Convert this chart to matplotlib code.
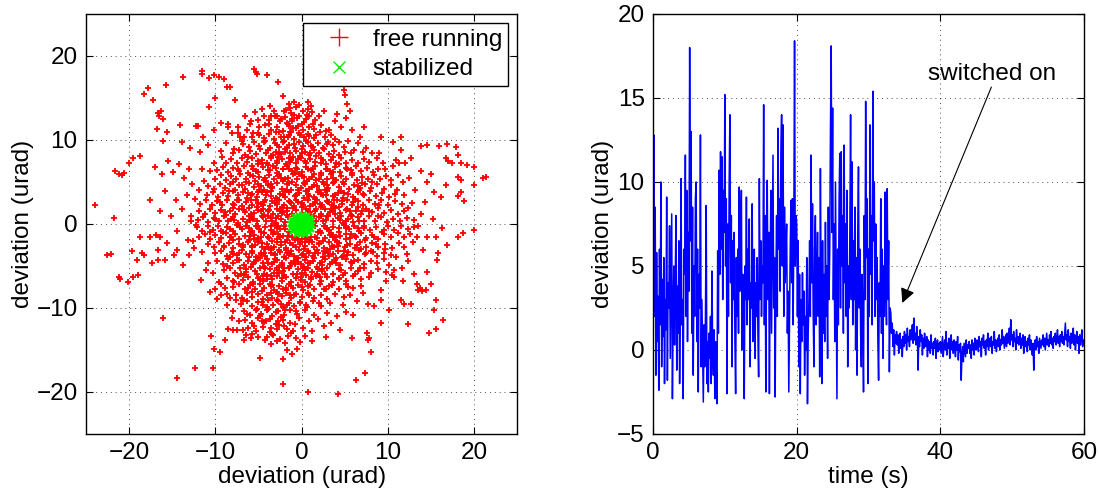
import numpy as np
import matplotlib
matplotlib.use("Agg")
import matplotlib.pyplot as plt
from matplotlib.lines import Line2D

plt.rcParams['font.family'] = ['Liberation Sans', 'DejaVu Sans']
plt.rcParams['font.size'] = 17.5

# ---- left panel: beam deviation scatter (urad) ----
# dense central cloud, read band by band
free_core = [
    (-1.8,13.6),(-1.2,13.2),(-0.6,13.9),(0.2,13.4),(-0.3,12.9),(0.8,13.7),(-1.5,14.3),(-0.9,14.5),
    (-3.8,12.4),(-3.1,12.8),(-2.5,12.2),(-1.9,12.7),(-1.1,12.3),(-0.5,12.6),(0.3,12.1),(0.9,12.8),(1.6,12.4),(-2.8,12.9),
    (-4.9,11.5),(-4.2,11.8),(-3.5,11.2),(-2.9,11.6),(-2.2,11.1),(-1.6,11.9),(-1.0,11.4),(-0.4,11.7),(0.2,11.2),(0.9,11.6),(1.5,11.3),(2.3,11.8),(2.8,11.1),(-1.3,11.0),
    (-5.8,10.4),(-5.1,10.8),(-4.4,10.2),(-3.8,10.7),(-3.2,10.1),(-2.6,10.9),(-2.0,10.4),(-1.5,10.6),(-0.9,10.1),(-0.3,10.8),(0.3,10.3),(0.8,10.7),(1.4,10.2),(2.1,10.9),(2.7,10.4),(3.4,10.6),(3.9,10.1),(-1.2,10.9),
    (-6.8,9.5),(-6.1,9.2),(-5.5,9.8),(-4.9,9.3),(-4.3,9.7),(-3.7,9.1),(-3.1,9.6),(-2.6,9.2),(-2.0,9.9),(-1.4,9.4),(-0.8,9.1),(-0.3,9.7),(0.2,9.3),(0.8,9.8),(1.3,9.2),(1.9,9.6),(2.5,9.1),(3.1,9.8),(3.7,9.4),(4.3,9.7),(4.9,9.2),(-1.7,9.0),
    (-7.9,8.4),(-7.2,8.8),(-6.6,8.2),(-6.0,8.7),(-5.3,8.3),(-4.8,8.9),(-4.1,8.5),(-3.6,8.1),(-3.0,8.6),(-2.4,8.3),(-1.9,8.9),(-1.3,8.4),(-0.7,8.7),(-0.2,8.1),(0.4,8.6),(0.9,8.2),(1.5,8.8),(2.0,8.4),(2.6,8.9),(3.2,8.3),(3.8,8.7),(4.4,8.2),(5.0,8.6),(5.7,8.4),(-2.7,8.0),(0.1,8.9),
    (-8.8,7.3),(-8.2,7.7),(-7.5,7.2),(-6.9,7.8),(-6.3,7.4),(-5.7,7.9),(-5.1,7.1),(-4.6,7.6),(-4.0,7.2),(-3.5,7.8),(-2.9,7.3),(-2.3,7.7),(-1.8,7.1),(-1.2,7.6),(-0.7,7.3),(-0.1,7.9),(0.5,7.2),(1.0,7.7),(1.6,7.4),(2.2,7.9),(2.8,7.1),(3.4,7.6),(4.0,7.3),(4.6,7.8),(5.2,7.2),(5.9,7.6),(6.5,7.3),(7.2,7.7),(7.8,7.4),(-1.5,7.9),
    (-9.8,6.4),(-9.1,6.8),(-8.5,6.2),(-7.9,6.7),(-7.3,6.3),(-6.7,6.9),(-6.2,6.1),(-5.6,6.6),(-5.0,6.2),(-4.5,6.8),(-3.9,6.4),(-3.3,6.9),(-2.8,6.1),(-2.2,6.5),(-1.7,6.9),(-1.1,6.3),(-0.6,6.7),(0.0,6.2),(0.5,6.8),(1.1,6.4),(1.6,6.9),(2.2,6.1),(2.8,6.6),(3.3,6.3),(3.9,6.8),(4.5,6.2),(5.1,6.7),(5.7,6.4),(6.3,6.9),(6.9,6.3),(7.6,6.7),(8.3,6.2),(8.9,6.6),(-0.3,6.0),
    (-10.0,5.4),(-9.4,5.8),(-8.8,5.2),(-8.2,5.7),(-7.6,5.3),(-7.1,5.9),(-6.5,5.4),(-6.0,5.8),(-5.4,5.1),(-4.9,5.6),(-4.3,5.2),(-3.8,5.8),(-3.2,5.3),(-2.7,5.7),(-2.1,5.1),(-1.6,5.5),(-1.0,5.9),(-0.5,5.3),(0.1,5.7),(0.6,5.1),(1.2,5.6),(1.7,5.2),(2.3,5.8),(2.9,5.4),(3.4,5.9),(4.0,5.2),(4.6,5.7),(5.2,5.3),(5.8,5.8),(6.4,5.2),(7.0,5.6),(7.7,5.3),(8.4,5.8),(9.1,5.4),(9.8,5.7),(-2.4,5.5),(0.9,5.4),(3.7,5.5),
    (-10.8,4.5),(-10.1,4.2),(-9.5,4.8),(-8.9,4.3),(-8.3,4.7),(-7.7,4.1),(-7.2,4.6),(-6.6,4.2),(-6.1,4.9),(-5.5,4.4),(-5.0,4.8),(-4.4,4.1),(-3.9,4.6),(-3.4,4.3),(-2.8,4.9),(-2.3,4.2),(-1.7,4.7),(-1.2,4.1),(-0.7,4.6),(-0.1,4.3),(0.4,4.8),(0.9,4.2),(1.5,4.6),(2.0,4.1),(2.6,4.7),(3.1,4.3),(3.7,4.9),(4.3,4.4),(4.9,4.8),(5.5,4.2),(6.1,4.6),(6.7,4.1),(7.4,4.7),(8.1,4.3),(8.8,4.8),(9.6,4.2),(10.4,4.6),(-4.7,4.5),(-1.4,4.9),(1.8,4.5),
    (-11.0,3.5),(-10.3,3.8),(-9.7,3.2),(-9.1,3.7),(-8.5,3.3),(-7.9,3.9),(-7.4,3.4),(-6.8,3.8),(-6.3,3.1),(-5.7,3.6),(-5.2,3.2),(-4.6,3.8),(-4.1,3.4),(-3.6,3.9),(-3.0,3.1),(-2.5,3.6),(-1.9,3.2),(-1.4,3.8),(-0.8,3.3),(-0.3,3.7),(0.3,3.1),(0.8,3.6),(1.4,3.2),(1.9,3.8),(2.5,3.4),(3.0,3.9),(3.6,3.3),(4.2,3.7),(4.8,3.1),(5.4,3.6),(6.0,3.2),(6.6,3.8),(7.2,3.4),(7.9,3.9),(8.6,3.3),(9.3,3.7),(10.1,3.2),(10.8,3.6),(-2.2,3.5),(0.6,3.9),(-5.9,3.4),(2.8,3.5),
    (-11.8,2.4),(-11.1,2.8),(-10.4,2.2),(-9.8,2.7),(-9.2,2.3),(-8.6,2.9),(-8.0,2.4),(-7.5,2.8),(-6.9,2.1),(-6.4,2.6),(-5.8,2.2),(-5.3,2.8),(-4.7,2.4),(-4.2,2.9),(-3.7,2.1),(-3.1,2.5),(-2.6,2.9),(-2.0,2.3),(-1.5,2.7),(-0.9,2.1),(-0.4,2.6),(0.2,2.2),(0.7,2.8),(1.3,2.4),(1.8,2.9),(2.4,2.2),(2.9,2.7),(3.5,2.3),(4.1,2.8),(4.7,2.4),(5.3,2.9),(5.9,2.2),(6.5,2.7),(7.1,2.3),(7.8,2.8),(8.5,2.4),(9.2,2.9),(10.0,2.3),(10.8,2.7),(11.6,2.4),(-1.2,2.5),(1.0,2.1),(-3.4,2.7),(3.2,2.6),
    (-11.9,1.5),(-11.2,1.2),(-10.6,1.8),(-10.0,1.3),(-9.4,1.7),(-8.8,1.1),(-8.3,1.6),(-7.7,1.2),(-7.2,1.8),(-6.6,1.4),(-6.1,1.9),(-5.5,1.3),(-5.0,1.7),(-4.4,1.1),(-3.9,1.6),(-3.3,1.2),(-2.8,1.8),(-2.2,1.4),(-1.7,1.9),(-1.1,1.2),(-0.6,1.7),(0.0,1.3),(0.5,1.8),(1.1,1.1),(1.6,1.6),(2.2,1.2),(2.7,1.8),(3.3,1.4),(3.9,1.9),(4.5,1.3),(5.1,1.7),(5.7,1.1),(6.3,1.6),(6.9,1.2),(7.5,1.8),(8.2,1.4),(8.9,1.9),(9.6,1.3),(10.4,1.7),(11.2,1.2),(11.9,1.6),(-2.5,1.5),(0.8,1.5),(-4.7,1.5),(3.6,1.6),(-8.0,1.9),
    (-12.0,0.5),(-11.4,0.8),(-10.8,0.2),(-10.2,0.7),(-9.6,0.3),(-9.0,0.9),(-8.5,0.4),(-7.9,0.8),(-7.4,0.1),(-6.8,0.6),(-6.3,0.2),(-5.7,0.8),(-5.2,0.3),(-4.6,0.9),(-4.1,0.4),(-3.5,0.7),(-3.0,0.1),(-2.4,0.6),(-1.9,0.2),(2.0,0.8),(2.5,0.3),(3.1,0.9),(3.6,0.4),(4.2,0.7),(4.8,0.1),(5.4,0.6),(6.0,0.2),(6.6,0.8),(7.2,0.3),(7.8,0.9),(8.5,0.4),(9.2,0.8),(9.9,0.2),(10.6,0.6),(11.4,0.3),(12.2,0.7),(-2.7,0.9),(2.8,0.5),(-1.6,0.8),(1.7,0.3),(-6.0,0.5),(5.1,0.4),(13.0,0.5),(-8.2,0.6),
    (-12.1,-0.4),(-11.5,-0.8),(-10.9,-0.2),(-10.3,-0.7),(-9.7,-0.3),(-9.1,-0.9),(-8.6,-0.4),(-8.0,-0.8),(-7.5,-0.1),(-6.9,-0.6),(-6.4,-0.2),(-5.8,-0.8),(-5.3,-0.3),(-4.7,-0.9),(-4.2,-0.4),(-3.6,-0.7),(-3.1,-0.1),(-2.5,-0.6),(-2.0,-0.2),(-1.5,-0.9),(1.6,-0.3),(2.1,-0.8),(2.6,-0.2),(3.2,-0.7),(3.7,-0.4),(4.3,-0.9),(4.9,-0.1),(5.5,-0.6),(6.1,-0.3),(6.7,-0.8),(7.3,-0.2),(7.9,-0.7),(8.6,-0.4),(9.3,-0.9),(10.0,-0.3),(10.7,-0.7),(11.5,-0.2),(12.3,-0.6),(-2.8,-0.5),(2.9,-0.5),(-6.1,-0.5),(5.2,-0.5),(13.1,-0.4),(-8.3,-0.6),
    (-11.9,-1.5),(-11.2,-1.2),(-10.6,-1.8),(-10.0,-1.3),(-9.4,-1.7),(-8.8,-1.1),(-8.3,-1.6),(-7.7,-1.2),(-7.2,-1.8),(-6.6,-1.4),(-6.1,-1.9),(-5.5,-1.3),(-5.0,-1.7),(-4.4,-1.1),(-3.9,-1.6),(-3.3,-1.2),(-2.8,-1.8),(-2.2,-1.4),(-1.7,-1.9),(-1.1,-1.6),(-0.6,-1.7),(0.0,-1.8),(0.5,-1.8),(1.1,-1.6),(1.6,-1.6),(2.2,-1.1),(2.7,-1.7),(3.3,-1.3),(3.9,-1.9),(4.5,-1.4),(5.1,-1.8),(5.7,-1.2),(6.3,-1.6),(6.9,-1.1),(7.5,-1.7),(8.2,-1.3),(8.9,-1.8),(9.6,-1.2),(10.4,-1.6),(11.2,-1.1),(11.9,-1.5),(-2.5,-1.5),(-4.7,-1.5),(3.6,-1.6),(-8.0,-1.9),
    (-10.9,-2.4),(-10.2,-2.8),(-9.6,-2.2),(-9.0,-2.7),(-8.4,-2.3),(-7.9,-2.9),(-7.3,-2.4),(-6.8,-2.8),(-6.2,-2.1),(-5.7,-2.6),(-5.1,-2.2),(-4.6,-2.8),(-4.0,-2.4),(-3.5,-2.9),(-2.9,-2.1),(-2.4,-2.5),(-1.8,-2.9),(-1.3,-2.3),(-0.7,-2.7),(-0.2,-2.1),(0.4,-2.6),(0.9,-2.2),(1.5,-2.8),(2.0,-2.4),(2.6,-2.9),(3.2,-2.2),(3.8,-2.7),(4.4,-2.3),(5.0,-2.8),(5.6,-2.4),(6.2,-2.9),(6.8,-2.2),(7.5,-2.7),(8.2,-2.3),(8.9,-2.8),(9.7,-2.4),(10.5,-2.9),(11.3,-2.3),(-1.0,-2.5),(1.2,-2.1),(-3.2,-2.7),(3.5,-2.6),(-5.4,-2.5),(5.3,-2.5),
    (-10.0,-3.5),(-9.3,-3.2),(-8.7,-3.8),(-8.1,-3.3),(-7.5,-3.7),(-6.9,-3.1),(-6.4,-3.6),(-5.8,-3.2),(-5.3,-3.9),(-4.7,-3.4),(-4.2,-3.8),(-3.6,-3.1),(-3.1,-3.6),(-2.5,-3.3),(-2.0,-3.9),(-1.4,-3.4),(-0.9,-3.8),(-0.3,-3.1),(0.2,-3.6),(0.8,-3.2),(1.3,-3.8),(1.9,-3.4),(2.5,-3.9),(3.0,-3.1),(3.6,-3.6),(4.2,-3.2),(4.8,-3.8),(5.4,-3.3),(6.0,-3.7),(6.7,-3.1),(7.4,-3.6),(8.1,-3.2),(8.8,-3.8),(9.6,-3.4),(10.4,-3.7),(-1.7,-3.5),(0.5,-3.9),(-4.4,-3.5),(2.7,-3.5),(-7.2,-3.4),
    (-9.8,-4.4),(-9.1,-4.8),(-8.5,-4.2),(-7.9,-4.7),(-7.3,-4.3),(-6.7,-4.9),(-6.2,-4.4),(-5.6,-4.8),(-5.1,-4.1),(-4.5,-4.6),(-4.0,-4.2),(-3.4,-4.8),(-2.9,-4.3),(-2.3,-4.9),(-1.8,-4.1),(-1.2,-4.6),(-0.7,-4.2),(-0.1,-4.8),(0.4,-4.3),(1.0,-4.7),(1.5,-4.1),(2.1,-4.6),(2.7,-4.2),(3.3,-4.8),(3.9,-4.3),(4.5,-4.9),(5.1,-4.2),(5.8,-4.7),(6.5,-4.3),(7.2,-4.8),(8.0,-4.4),(8.8,-4.7),(9.6,-4.2),(-3.2,-4.5),(-0.4,-4.5),(2.4,-4.5),
    (-9.0,-5.5),(-8.3,-5.2),(-7.7,-5.8),(-7.1,-5.3),(-6.5,-5.7),(-5.9,-5.1),(-5.4,-5.6),(-4.8,-5.2),(-4.3,-5.9),(-3.7,-5.4),(-3.2,-5.8),(-2.6,-5.1),(-2.1,-5.6),(-1.5,-5.3),(-1.0,-5.9),(-0.4,-5.4),(0.1,-5.8),(0.7,-5.2),(1.2,-5.7),(1.8,-5.1),(2.4,-5.6),(3.0,-5.3),(3.6,-5.9),(4.3,-5.4),(5.0,-5.8),(5.7,-5.2),(6.5,-5.6),(7.3,-5.3),(8.1,-5.8),(8.9,-5.4),(-2.9,-5.5),(0.4,-5.5),
    (-8.7,-6.4),(-8.0,-6.8),(-7.4,-6.2),(-6.8,-6.7),(-6.2,-6.3),(-5.6,-6.9),(-5.1,-6.4),(-4.5,-6.8),(-4.0,-6.1),(-3.4,-6.6),(-2.9,-6.2),(-2.3,-6.8),(-1.8,-6.3),(-1.2,-6.9),(-0.7,-6.4),(-0.1,-6.7),(0.5,-6.1),(1.1,-6.6),(1.7,-6.2),(2.3,-6.8),(3.0,-6.3),(3.7,-6.9),(4.4,-6.4),(5.2,-6.8),(6.0,-6.2),(6.9,-6.6),(7.8,-6.3),(-4.8,-6.5),
    (-7.9,-7.5),(-7.2,-7.2),(-6.6,-7.8),(-6.0,-7.3),(-5.4,-7.7),(-4.8,-7.1),(-4.3,-7.6),(-3.7,-7.2),(-3.2,-7.9),(-2.6,-7.4),(-2.1,-7.8),(-1.5,-7.1),(-1.0,-7.6),(-0.4,-7.3),(0.2,-7.9),(0.8,-7.4),(1.4,-7.7),(2.1,-7.2),(2.8,-7.8),(3.5,-7.3),(4.3,-7.7),(5.1,-7.2),(6.0,-7.6),(6.9,-7.4),
    (-7.6,-8.4),(-6.9,-8.8),(-6.3,-8.2),(-5.7,-8.7),(-5.1,-8.3),(-4.5,-8.9),(-4.0,-8.4),(-3.4,-8.8),(-2.9,-8.1),(-2.3,-8.6),(-1.8,-8.2),(-1.2,-8.8),(-0.6,-8.3),(0.0,-8.7),(0.7,-8.2),(1.4,-8.8),(2.2,-8.4),(3.0,-8.9),(3.9,-8.3),(4.9,-8.7),
    (-7.0,-9.5),(-6.3,-9.2),(-5.7,-9.8),(-5.1,-9.3),(-4.5,-9.7),(-3.9,-9.1),(-3.3,-9.6),(-2.7,-9.2),(-2.1,-9.9),(-1.5,-9.4),(-0.9,-9.8),(-0.2,-9.3),(0.5,-9.7),(1.3,-9.2),(2.2,-9.8),(3.3,-9.4),
    (-6.7,-10.4),(-6.0,-10.8),(-5.3,-10.2),(-4.7,-10.7),(-4.0,-10.3),(-3.4,-10.9),(-2.7,-10.4),(-2.0,-10.8),(-1.3,-10.2),(-0.5,-10.7),(0.4,-10.3),(1.5,-10.8),
    (-6.6,-11.4),(-5.8,-11.8),(-5.1,-11.2),(-4.4,-11.7),(-3.7,-11.3),(-3.0,-11.9),(-2.2,-11.4),(-1.3,-11.8),(-0.3,-11.2),(0.9,-11.6),
    (-6.2,-12.4),(-5.3,-12.8),(-4.5,-12.3),(-3.7,-12.9),(-2.9,-12.5),(-2.0,-12.2),(-1.0,-12.7),(0.2,-12.4),
    (-5.1,-13.4),(-4.2,-13.8),(-3.3,-13.2),(-2.5,-13.7),(-1.6,-13.3),(-0.6,-13.6),
]

# extra points where the cloud is densest
free_inner = [
    (-5.6,5.7),(-4.9,4.0),(-4.1,5.1),(-3.4,4.4),(-2.6,5.9),(-1.9,3.9),(-1.1,5.0),(-0.4,4.1),(0.3,5.6),(1.2,4.4),(2.0,5.4),(2.9,4.0),(3.8,5.0),(4.6,3.9),
    (-5.9,2.9),(-5.0,3.8),(-4.3,2.6),(-3.6,3.3),(-2.9,2.4),(-2.1,3.4),(-1.3,2.6),(-0.6,3.5),(0.1,2.5),(0.9,3.3),(1.6,2.5),(2.3,3.6),(3.1,2.6),(3.9,3.4),(4.7,2.7),
    (-6.1,1.0),(-5.2,2.0),(-4.5,0.8),(-3.8,1.7),(-3.0,0.7),(-2.3,1.9),(-1.7,1.1),(1.5,0.9),(2.2,2.0),(3.0,1.0),(3.8,2.1),(4.6,0.9),(5.3,1.8),
    (-6.0,-0.9),(-5.1,-0.2),(-4.3,-1.1),(-3.5,-0.3),(-2.7,-1.2),(-1.9,-0.6),(1.9,-1.0),(2.7,-0.2),(3.5,-1.3),(4.3,-0.5),(5.1,-1.2),
    (-5.8,-2.7),(-5.0,-1.9),(-4.2,-3.0),(-3.4,-2.0),(-2.6,-3.1),(-1.9,-2.2),(-1.2,-3.2),(-0.4,-1.8),(0.3,-3.0),(1.0,-1.9),(1.8,-3.1),(2.5,-2.0),(3.3,-3.0),(4.1,-2.1),(4.9,-3.2),
    (-5.5,-4.5),(-4.7,-3.6),(-3.9,-4.7),(-3.1,-3.7),(-2.3,-4.6),(-1.5,-3.6),(-0.8,-4.8),(0.0,-3.7),(0.8,-4.6),(1.6,-3.5),(2.4,-4.9),(3.2,-3.8),(4.0,-4.6),
    (-5.2,-5.9),(-4.4,-5.1),(-3.6,-6.2),(-2.8,-5.2),(-2.0,-6.1),(-1.3,-5.0),(-0.5,-6.0),(0.3,-5.1),(1.1,-6.3),(1.9,-5.4),(2.7,-6.0),
    (-4.6,7.2),(-3.7,6.4),(-2.9,7.5),(-2.1,6.6),(-1.3,7.4),(-0.5,6.5),(0.4,7.5),(1.3,6.6),(2.2,7.3),(3.0,6.5),
    (-3.9,8.8),(-2.9,9.4),(-1.9,8.6),(-0.9,9.5),(0.1,8.5),(1.1,9.3),(-2.4,10.3),(-1.4,11.7),(-0.2,10.6),(-1.1,12.5),
    (-4.6,-8.0),(-3.6,-7.4),(-2.7,-8.3),(-1.8,-7.6),(-0.9,-8.5),(0.0,-7.5),(-3.9,-10.1),(-2.9,-9.0),(-1.9,-10.3),(-4.1,-11.6),(-2.6,-12.0),(-3.4,-13.1),
    (6.2,3.0),(7.0,1.5),(6.5,-0.5),(7.4,-1.9),(6.8,4.3),(8.3,-3.3),(6.1,-4.4),
]

# second pass over the dense part of the cloud
free_dense = [
    (-4.2,9.9),(-3.3,8.2),(-2.2,9.7),(-1.0,8.0),(0.5,9.9),(1.7,8.1),(2.9,9.5),(-5.1,7.5),(-3.9,7.0),(-2.6,8.4),(-0.4,7.7),(1.0,8.5),(2.5,7.6),(3.7,8.0),(-6.2,8.0),(4.4,7.1),(-1.6,10.3),(0.9,10.5),(-3.0,11.0),(-0.6,11.4),
    (-7.4,6.6),(-6.4,5.0),(-5.3,6.3),(-4.2,5.5),(-3.0,6.7),(-1.9,5.3),(-0.8,6.1),(0.3,4.9),(1.4,6.0),(2.5,5.0),(3.6,6.2),(4.8,5.0),(5.9,6.1),(7.0,4.9),(-6.9,4.6),(-5.8,6.9),(-3.6,4.7),(-1.5,6.5),(0.8,6.6),(2.9,4.6),(5.3,6.6),(6.5,4.5),(-8.0,5.0),(8.2,5.0),
    (-8.4,3.9),(-7.3,2.9),(-6.2,3.7),(-5.1,2.5),(-4.0,3.8),(-2.9,3.0),(-1.7,4.0),(-0.6,2.9),(0.5,3.9),(1.6,3.0),(2.7,4.0),(3.8,2.8),(4.9,3.7),(6.0,2.6),(7.1,3.6),(-7.8,2.2),(-4.5,2.2),(-2.3,2.0),(0.0,2.0),(2.1,2.4),(4.3,2.0),(6.6,2.0),(-9.5,2.6),(9.0,2.2),
    (-8.9,1.4),(-7.8,0.5),(-6.7,1.7),(-5.6,0.6),(-4.5,1.8),(-3.4,0.4),(-2.3,1.3),(2.3,0.9),(3.4,1.8),(4.5,0.5),(5.6,1.5),(6.7,0.4),(7.8,1.5),(-10.0,0.6),(-5.9,1.2),(-3.9,1.0),(3.9,1.2),(5.9,0.9),(8.9,0.9),(-1.7,1.6),(1.7,1.8),(-1.0,1.9),(1.0,1.4),
    (-9.3,-0.8),(-8.2,-1.6),(-7.1,-0.4),(-6.0,-1.4),(-4.9,-0.6),(-3.8,-1.7),(-2.7,-0.3),(-1.6,-1.4),(1.8,-1.7),(2.9,-0.6),(4.0,-1.5),(5.1,-0.3),(6.2,-1.4),(7.3,-0.5),(8.4,-1.6),(-10.6,-1.0),(-5.5,-1.8),(-3.2,-1.0),(3.4,-1.1),(5.6,-1.7),(9.6,-0.7),(-0.8,-1.9),(0.6,-1.6),
    (-9.0,-2.6),(-7.9,-3.6),(-6.8,-2.5),(-5.7,-3.5),(-4.6,-2.3),(-3.5,-3.4),(-2.4,-2.2),(-1.3,-3.6),(-0.2,-2.4),(0.9,-3.5),(2.0,-2.3),(3.1,-3.4),(4.2,-2.6),(5.3,-3.7),(6.4,-2.5),(7.5,-3.5),(8.6,-2.4),(-8.3,-3.9),(-6.1,-3.9),(-3.9,-2.8),(-1.8,-3.1),(0.4,-2.2),(2.6,-3.2),(4.7,-3.9),(6.9,-3.0),(9.7,-3.0),
    (-8.6,-5.0),(-7.5,-4.3),(-6.4,-5.4),(-5.3,-4.4),(-4.2,-5.3),(-3.1,-4.2),(-2.0,-5.2),(-0.9,-4.4),(0.2,-5.2),(1.3,-4.4),(2.4,-5.4),(3.5,-4.5),(4.6,-5.5),(5.7,-4.5),(6.8,-5.2),(-7.0,-5.9),(-4.8,-4.0),(-2.6,-5.8),(-0.4,-4.1),(1.8,-5.9),(4.0,-4.1),(6.2,-5.9),
    (-7.8,-6.9),(-6.7,-6.1),(-5.6,-7.2),(-4.5,-6.2),(-3.4,-7.3),(-2.3,-6.4),(-1.2,-7.4),(-0.1,-6.3),(1.0,-7.3),(2.1,-6.3),(3.2,-7.4),(4.3,-6.5),(5.4,-7.5),(-6.2,-7.6),(-4.0,-6.6),(-1.8,-7.9),(0.4,-6.9),(2.6,-7.7),(4.8,-6.1),
    (-6.8,-9.0),(-5.7,-8.1),(-4.6,-9.3),(-3.5,-8.2),(-2.4,-9.5),(-1.3,-8.4),(-0.2,-9.4),(0.9,-8.5),(2.0,-9.4),(-5.2,-10.1),(-4.0,-9.9),(-3.0,-10.5),(-1.7,-9.7),(-0.6,-10.4),(0.6,-9.9),(-6.3,-10.7),(-2.4,-11.1),(-4.8,-11.0),
    (-5.5,-12.1),(-4.6,-11.5),(-3.6,-12.4),(-2.7,-11.6),(-1.7,-12.5),(-0.8,-11.9),(-4.0,-13.4),(-2.9,-13.9),(-1.9,-14.2),(-3.6,-14.3),(-5.7,-13.1),(-1.2,-13.0),
    (-3.8,11.9),(-2.4,12.5),(-0.9,13.0),(0.5,12.5),(-2.0,13.4),(-0.3,14.2),(1.1,14.0),(-1.3,13.8),(2.0,12.9),(-3.2,13.4),(1.7,10.6),(-4.9,10.6),(3.2,11.2),(-1.7,12.0),(0.0,11.9),(1.3,11.9),
]

# rim of the cloud, rounding it off between the bands
free_rim = [
    (-8.8,9.6),(-8.1,10.8),(-7.4,11.6),(-6.9,9.9),(-6.3,11.2),(-5.9,12.3),(-7.8,8.9),(-8.5,11.9),(-6.6,12.8),(-5.4,13.3),(-9.3,8.7),(-7.1,10.3),(-4.6,13.7),(-3.7,14.1),(-6.0,11.9),
    (5.4,9.9),(6.1,8.8),(6.8,10.3),(7.5,9.1),(5.8,11.2),(4.6,11.6),(8.2,8.4),(3.9,12.3),(6.5,9.6),(8.8,7.9),(7.1,8.6),(4.1,13.1),(5.1,12.6),(9.5,7.2),(2.6,13.5),
    (9.7,6.6),(10.4,5.2),(11.1,4.1),(10.6,6.9),(11.8,5.0),(10.2,-4.9),(11.0,-3.9),(10.5,-6.1),(11.6,-5.2),(9.8,-6.8),(12.4,1.9),(12.6,-1.2),(11.9,-2.8),(10.9,7.6),(9.0,8.5),
    (-10.6,6.3),(-11.3,5.1),(-10.1,7.2),(-11.9,4.0),(-12.4,3.0),(-10.8,-4.6),(-11.5,-3.3),(-10.3,-5.8),(-9.6,-6.9),(-11.1,-5.5),(-12.6,-2.0),(-12.8,1.0),(-9.2,8.0),(-11.6,6.5),(-12.2,-0.1),
    (-9.3,-8.4),(-8.6,-9.6),(-7.9,-10.4),(-8.9,-7.6),(-7.3,-11.5),(-6.8,-12.6),(-9.8,-8.9),(-8.1,-11.2),(-7.6,-9.1),(-6.4,-13.2),
    (4.8,-9.6),(5.6,-8.4),(6.4,-9.2),(5.2,-10.5),(4.1,-10.9),(3.4,-11.8),(7.1,-8.2),(6.0,-10.8),(2.6,-12.1),(7.7,-9.5),(2.9,-10.6),(1.9,-11.3),(1.2,-12.8),(0.4,-13.3),(-0.2,-14.1),
]

# sparse points outside the cloud
free_outliers = [
    (-21.6,6.3),(-24.0,2.3),(-21.8,0.7),(-21.2,6.0),(-20.8,5.8),(-20.6,6.1),(-20.0,7.2),(-19.5,7.8),(-18.7,8.1),(-18.3,15.5),
    (-17.8,16.2),(-17.2,14.7),(-16.7,13.2),(-16.3,13.4),(-16.5,12.9),(-16.1,12.5),(-15.7,16.6),(-16.8,11.3),(-15.6,10.9),(-16.1,9.9),
    (-14.1,11.8),(-13.8,17.5),(-12.3,11.7),(-12.0,11.7),(-11.6,17.9),(-11.5,18.2),(-10.7,17.4),(-10.1,17.7),(-9.6,17.5),(-9.0,17.3),
    (-8.6,16.3),(-8.3,16.3),(-10.0,15.0),(-7.7,14.8),(-10.7,13.9),(-5.3,18.1),(-5.5,18.4),(-5.2,17.8),(-4.0,17.7),(-2.7,16.9),
    (-2.1,15.2),(-5.0,12.4),(-4.4,12.8),(-3.5,12.9),(-7.4,10.8),(-6.7,10.4),(-5.6,10.8),(0.8,14.5),(0.6,13.0),(1.2,13.3),
    (4.9,16.0),(5.0,15.4),(5.3,14.3),(5.6,13.5),(7.2,11.5),(9.2,10.4),(10.6,9.7),(11.5,10.4),(13.8,9.3),(14.6,9.4),
    (16.0,9.3),(16.9,9.5),(17.9,9.2),(18.5,7.3),(19.2,7.0),(20.0,6.8),(21.0,5.5),(21.4,5.6),(18.1,5.6),(18.5,5.2),
    (20.0,4.6),(18.5,3.8),(18.8,2.7),(18.1,3.3),(20.0,-0.7),(16.7,7.9),(17.0,7.5),(17.5,7.3),(18.1,8.2),(11.5,8.8),
    (11.3,7.3),(12.0,7.3),(12.7,7.9),(13.8,6.3),(14.6,5.0),(15.4,3.8),(16.2,3.2),
    (13.4,-1.5),(14.5,-1.5),(15.6,-1.5),(15.8,-3.5),(15.7,-4.3),(16.9,-2.5),(18.1,-1.5),(18.7,-1.1),(14.6,-5.7),(15.0,-7.1),
    (14.4,-7.9),(15.6,-9.0),(13.4,-7.1),(13.7,-7.6),(14.0,-8.0),(13.5,-7.9),(15.4,-10.2),(16.4,-11.4),(14.8,-13.0),(15.6,-12.5),
    (12.3,-11.9),(11.5,-9.0),(11.9,-9.5),(12.7,-9.5),(10.1,-10.2),(9.2,-11.8),(10.7,-5.5),(10.7,-6.3),(9.8,-5.7),(8.0,-15.2),
    (7.7,-13.8),(7.8,-13.6),(7.6,-13.0),(7.4,-17.8),(6.3,-18.6),(4.2,-20.2),(5.9,-13.6),(4.5,-12.6),(2.8,-13.5),(1.2,-13.9),
    (9.2,-7.9),(9.2,-9.0),(8.4,-9.8),
    (-22.6,-3.7),(-22.1,-3.6),(-21.2,-6.3),(-21.1,-6.6),(-20.1,-6.9),(-19.5,-6.3),(-19.0,-6.1),(-19.7,-3.2),(-19.1,-4.3),(-18.5,-3.5),
    (-18.3,-3.7),(-18.7,-1.5),(-17.6,-1.5),(-16.9,-1.3),(-16.4,-1.6),(-17.4,-4.7),(-16.6,-4.3),(-15.8,-4.3),(-16.6,-3.1),(-14.8,-3.7),
    (-14.5,-3.1),(-13.7,-4.9),(-13.1,-3.7),(-16.1,-11.2),(-11.7,-6.7),(-14.5,-18.3),(-12.4,-17.1),(-10.3,-17.2),(-10.2,-14.9),(-9.5,-15.2),
    (-10.5,-13.3),(-8.9,-13.8),(-10.6,-8.1),(-10.0,-7.7),(-9.4,-7.1),(-8.6,-8.3),(-8.3,-8.8),(-8.5,-12.5),(-7.9,-12.6),(-7.5,-12.6),
    (-6.7,-13.8),(-5.9,-13.6),(-4.8,-16.0),(-2.2,-19.0),(0.7,-20.0),(-2.2,-16.1),(-1.7,-15.0),(-1.1,-15.5),(-0.5,-14.9),
    (-17.0,6.8),(-16.2,5.9),(-15.5,7.5),(-14.9,6.2),(-14.2,7.1),(-13.6,5.5),(-13.0,6.6),(-12.7,4.8),(-15.8,3.9),(-14.6,2.8),
    (-13.3,3.4),(-17.6,2.9),(-16.4,1.6),(-15.1,0.9),(-13.9,1.8),(-12.8,0.3),(-14.4,-0.8),(-13.2,-1.9),(-15.6,-2.3),(-12.5,-2.9),
    (-12.9,9.1),(-13.9,9.8),(-11.4,10.3),(-10.2,11.2),(-9.4,12.0),(-8.5,11.5),(-11.8,8.6),(-10.9,9.4),
    (12.5,5.5),(13.2,4.0),(12.8,2.5),(13.9,1.2),(13.5,-0.3),(12.9,-2.2),(14.1,-3.1),(12.4,-4.4),(13.0,-5.9),(11.8,-6.8),
    (11.2,5.8),(11.9,3.4),(14.3,2.6),(15.2,0.6),(16.3,-0.5),(15.0,5.9),(16.7,4.6),(12.2,-3.6),
]

# stabilized beam: tight blob around the origin
stab_pts = [
    (0.0,-0.1),(0.3,0.1),(-0.3,-0.3),(0.2,-0.4),(-0.2,0.2),
    (0.6,-0.1),(0.4,0.3),(0.0,0.4),(-0.4,0.3),(-0.6,-0.1),(-0.4,-0.5),(0.0,-0.6),(0.4,-0.5),
    (0.95,-0.1),(0.8,0.4),(0.5,0.75),(0.0,0.8),(-0.5,0.7),(-0.85,0.35),(-0.95,-0.1),(-0.8,-0.6),(-0.45,-0.9),(0.05,-0.95),(0.5,-0.85),(0.85,-0.5),
    (1.25,-0.1),(1.15,0.35),(0.95,0.7),(0.6,0.95),(0.15,1.05),(-0.35,1.0),(-0.8,0.85),(-1.1,0.5),(-1.25,0.05),(-1.2,-0.45),(-0.95,-0.85),(-0.55,-1.15),(-0.05,-1.25),(0.45,-1.2),(0.85,-0.95),(1.15,-0.55),
    (0.7,0.2),(-0.7,0.1),(0.25,0.65),(-0.25,-0.75),(0.65,-0.4),(-0.6,0.55),(0.3,-0.9),(-0.9,-0.35),(1.0,0.15),(-1.0,0.2),(0.1,1.0),(-0.2,-1.0),
]

# ---- right panel: deviation vs time, 0.1 s samples ----
dt = 0.1
dev_free = [
    4.5, 12.8, 2.0, 8.5, -1.5, 5.8, 0.5, 3.2, -2.4, 6.0,
    1.5, 10.0, -1.0, 4.2, 0.8, 5.5, -2.0, 3.0, 1.2, 9.1,
    -1.8, 4.0, 2.5, 7.4, -0.5, 3.5, 8.1, -2.9, 2.2, 5.0,
    0.3, 4.5, 8.0, -1.2, 3.8, 1.0, 6.5, -2.0, 2.5, 10.2,
    1.5, 3.0, -2.9, 6.0, 4.5, 11.6, 2.0, 9.5, 0.5, 7.0,
    3.5, 18.0, 6.5, 13.0, 1.0, 8.5, -1.5, 5.0, 2.0, 9.0,
    10.0, 0.5, 6.0, -2.5, 4.5, 2.5, 12.8, -1.0, 3.0, 0.0,
    -3.1, 1.5, -1.0, 2.0, 8.6, -2.0, 0.5, -2.5, 1.0, -0.5,
    2.0, -2.0, 4.7, 0.0, -1.5, 1.2, -2.9, 0.5, -1.0, -3.2,
    5.9, 1.0, 10.7, 4.5, 11.8, 6.0, 11.5, 3.0, 9.5, 7.0,
    15.2, 5.0, 9.0, -2.6, 7.5, 2.0, 10.0, 14.0, 4.0, 8.0,
    -1.0, 6.5, 3.0, 7.0, 0.5, -2.6, 5.5, 2.0, 6.0, 1.0,
    9.7, 3.5, 7.0, 9.5, 0.0, 4.5, 2.0, -2.9, 5.0, 3.0,
    9.1, 1.5, 6.0, 3.0, 7.8, -1.0, 4.0, 2.5, 8.7, 0.5,
    3.5, 6.0, -0.5, 4.0, 2.0, 5.5, 1.0, -1.6, 10.2, 3.0,
    6.5, 2.0, 5.0, 4.0, 14.6, 1.5, 8.0, -2.5, 5.0, 10.1,
    3.0, 7.0, -2.6, 4.5, 9.5, 1.0, 6.0, 11.6, 2.5, 5.5,
    -2.8, 4.0, 8.0, 2.0, 13.2, 6.0, 9.0, 3.5, 12.0, 14.0,
    5.0, 13.4, 2.0, 8.5, 4.0, 6.0, 7.5, 1.0, 3.5, -2.5,
    2.0, 6.0, 8.9, 4.0, 9.0, 1.5, 7.0, 18.4, 5.0, 8.0,
    7.5, 2.0, 6.5, -1.0, 4.5, -2.6, 3.0, 0.5, 4.6, 1.5,
    3.5, -1.5, 2.0, 0.0, 5.5, -3.2, 1.0, 3.0, 6.5, 2.0,
    11.6, 4.0, 8.7, 2.0, -1.0, 6.0, 8.0, 1.5, 4.0, 7.0,
    2.0, 5.5, -1.6, 10.8, 3.0, -2.0, 6.5, 1.0, 4.5, 0.5,
    7.6, 2.0, 5.0, -0.5, 8.5, 3.0, 6.0, 13.1, 18.1, 7.0,
    14.4, 3.0, 7.5, 0.5, 10.0, 4.0, -2.9, 6.0, 1.5, 9.0,
    11.7, 2.5, 11.8, 5.0, 8.0, 1.0, 12.2, 4.0, 7.5, 2.0,
    9.5, -1.0, 5.0, 2.5, 7.0, 14.0, 3.0, 11.2, 1.5, 6.5,
    3.0, 8.5, 0.0, 5.5, -1.5, 7.0, 10.9, 2.5, 6.0, 1.0,
    -1.0, 4.5, 2.0, -2.5, 8.0, 3.0, 14.8, 5.5, 9.0, -2.0,
    6.0, 2.0, 13.4, 4.5, 8.0, 1.5, 15.4, 6.5, 10.0, 2.0,
    7.5, 3.0, 5.5, 0.5, -1.8, 4.0, 2.0, 9.0, 1.0, 6.0,
    -0.5, 5.0, 2.0, 9.4, 4.0, 1.5, 9.6, 3.0, 6.5, -1.3,
    2.5,
]
dev_locked = [
    2.2, 1.0, 1.6, 0.2, 1.2, -0.3, 0.9, 0.4, 1.1,
    0.3, 0.9, -0.2, 0.7, 1.0, 0.1, 0.6, -0.4, 0.8, 0.2,
    1.1, 0.4, 0.9, 0.0, 1.3, 0.5, 0.8, 0.2, 1.2, 0.6,
    0.9, 1.5, 0.4, 1.9, 0.6, 1.0, 0.3, 1.4, 0.7, -1.2,
    0.8, 0.2, 1.2, 0.5, 0.9, -0.3, 0.7, 0.1, 1.0, 0.4,
    0.2, 0.8, -0.4, 0.6, 0.0, 0.5, -0.2, 0.9, 0.1, 0.4,
    -0.3, 0.5, 0.1, 0.7, -0.5, 0.3, 0.6, -0.1, 0.4, 0.0,
    0.5, -0.2, 0.3, 0.8, -0.4, 0.2, 0.6, 0.0, 1.1, -0.3,
    0.4, 0.1, 0.7, -0.5, 0.3, 0.9, 0.0, 0.5, -0.2, 0.6,
    0.2, -0.4, 0.5, 0.0, 0.8, -0.6, 0.3, -0.1, 0.4, -1.8,
    -0.3, 0.2, -0.7, 0.4, 0.0, -0.4, 0.6, -0.2, 0.3, 0.1,
    0.5, -0.2, 0.3, -0.5, 0.6, 0.0, 0.4, -0.3, 0.7, 0.2,
    0.0, 0.6, 0.3, -0.1, 0.8, 0.2, 0.5, -0.4, 0.7, 0.3,
    0.9, 0.1, 0.5, -0.3, 0.6, 0.2, 1.0, 0.0, 0.4, 0.7,
    0.2, 0.8, -0.2, 0.5, 0.3, 1.1, 0.1, 0.6, -0.1, 0.4,
    0.7, 0.2, 0.9, 0.0, 0.6, 0.3, 1.2, 0.4, 0.8, 0.1,
    0.5, 0.9, 0.2, 1.0, 0.4, 0.7, 1.3, 0.3, 1.8, 0.6,
    0.9, 0.2, 1.1, 0.5, 0.7, 0.0, 1.2, 0.4, 0.8, 0.3,
    0.6, 1.0, 0.1, 0.7, 0.3, 0.9, -0.2, 0.5, 0.8, 0.2,
    0.5, -0.1, 0.7, 0.3, 0.9, 0.0, 0.6, 0.2, -0.3, 0.4,
    -1.2, 0.3, 0.6, 0.0, 0.8, 0.2, 0.5, -0.2, 0.7, 0.4,
    0.1, 0.6, 0.3, 0.9, 0.2, 0.7, 0.0, 0.5, 1.0, 0.3,
    0.6, 0.2, 0.9, 0.4, 1.1, 0.3, 0.7, 0.1, 0.8, 0.5,
    1.0, 0.3, 0.6, 1.2, 0.4, 0.8, 0.2, 0.9, 0.5, 1.1,
    0.4, 0.8, 0.3, 1.0, 1.6, 0.6, 0.9, 0.2, 1.2, 0.5,
    0.8, 0.1, 1.0, 0.4, 0.7, 1.3, 0.3, 0.9, 0.0, 0.6,
    1.1, 0.4, 0.8, -0.2, 0.9, 0.3, 0.7, 1.2, 0.2, 0.6, 0.5,
]

fig = plt.figure(figsize=(10.99, 4.94), dpi=100)
ax1 = fig.add_axes([0.0783, 0.1215, 0.3922, 0.8502])
ax2 = fig.add_axes([0.5942, 0.1215, 0.3922, 0.8502])

grid_kw = dict(color='k', linestyle=(0, (1, 4)), linewidth=0.7, alpha=0.7)
green = (0.0, 0.95, 0.0)

# scatter panel
free = np.array(free_core + free_inner + free_dense + free_rim + free_outliers)
stab = np.array(stab_pts)
ax1.plot(free[:, 0], free[:, 1], '+', color='red', ms=4.5, mew=1.3, linestyle='none')
ax1.plot(stab[:, 0], stab[:, 1], 'x', color=green, ms=5, mew=1.7, linestyle='none')
ax1.set_xlim(-25, 25)
ax1.set_ylim(-25, 25)
ax1.set_xticks([-20, -10, 0, 10, 20])
ax1.set_yticks([-20, -10, 0, 10, 20])
ax1.set_xlabel('deviation (urad)', labelpad=1)
ax1.set_ylabel('deviation (urad)', labelpad=2)
ax1.grid(True, **grid_kw)

handles = [Line2D([], [], marker='+', color='red', ls='none', ms=13, mew=1.0),
           Line2D([], [], marker='x', color=green, ls='none', ms=9, mew=1.0)]
ax1.legend(handles, ['free running', 'stabilized'], loc='upper right',
           bbox_to_anchor=(0.979, 0.979), borderaxespad=0, fancybox=False,
           edgecolor='k', framealpha=1, handletextpad=0.2, labelspacing=0.3,
           borderpad=0.25, handlelength=2.4)

# time trace panel
dev = np.array(dev_free + dev_locked)
t = np.arange(len(dev)) * dt
ax2.plot(t, dev, color='blue', lw=1.1)
ax2.set_xlim(0, 60)
ax2.set_ylim(-5, 20)
ax2.set_xticks([0, 20, 40, 60])
ax2.set_yticks([-5, 0, 5, 10, 15, 20])
ax2.set_xlabel('time (s)', labelpad=1)
ax2.set_ylabel('deviation (urad)', labelpad=2)
ax2.grid(True, **grid_kw)
ax2.annotate('', xy=(34.7, 2.8), xytext=(47.1, 15.65),
             arrowprops=dict(arrowstyle='-|>', color='k', lw=0.8,
                             mutation_scale=22, shrinkA=0, shrinkB=0))
ax2.text(38.3, 16.4, 'switched on', va='center', ha='left')

for ax in (ax1, ax2):
    ax.tick_params(direction='in', top=True, right=True, length=5, width=0.8, pad=6)
    for s in ax.spines.values():
        s.set_linewidth(1.0)

fig.savefig('out.png', dpi=100)
